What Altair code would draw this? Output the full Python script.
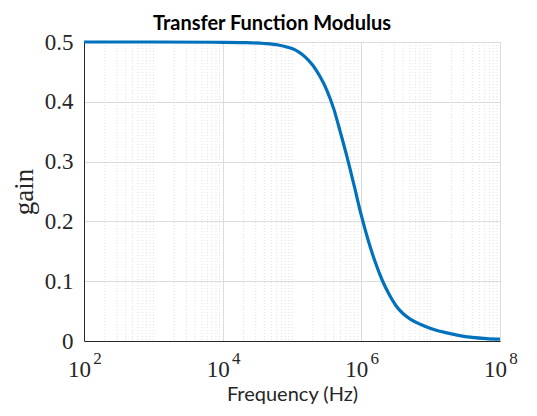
import altair as alt
import pandas as pd

log_freq = [2.0, 3.0, 4.0, 4.3, 4.6, 4.8, 4.9, 5.0, 5.1, 5.2, 5.3, 5.4, 5.5,
            5.6, 5.7, 5.8, 5.9, 6.0, 6.1, 6.2, 6.3, 6.4, 6.5, 6.6, 6.7,
            6.85, 7.0, 7.2, 7.4, 7.6, 7.8, 8.0]
gain = [0.5, 0.5, 0.4995, 0.499, 0.4975, 0.495, 0.4925, 0.489, 0.483, 0.474,
        0.461, 0.443, 0.420, 0.389, 0.348, 0.305, 0.258, 0.210, 0.168, 0.132,
        0.102, 0.078, 0.059, 0.046, 0.037, 0.028, 0.021, 0.0145, 0.0095,
        0.006, 0.004, 0.003]

major_x = [1e2, 1e4, 1e6, 1e8]
exponents = ["2", "4", "6", "8"]
minor_x = [k * 10 ** d for d in range(2, 8) for k in range(2, 11) if k * 10 ** d not in major_x]
y_ticks = [0, 0.1, 0.2, 0.3, 0.4, 0.5]

df = pd.DataFrame({"freq": [10 ** v for v in log_freq], "gain": gain})
minor_df = pd.DataFrame({"freq": minor_x})

xscale = alt.Scale(type="log", domain=[1e2, 1e8], nice=False)
yscale = alt.Scale(domain=[0, 0.5], nice=False)

exp_expr = ("datum.value == 100 ? '%s' : datum.value == 10000 ? '%s' : "
            "datum.value == 1000000 ? '%s' : '%s'") % tuple(exponents)

minor = alt.Chart(minor_df).mark_rule(
    color="#d9d9d9", strokeWidth=0.8, strokeDash=[1, 2]
).encode(
    x=alt.X("freq:Q", scale=xscale,
            axis=alt.Axis(values=major_x, labelExpr=exp_expr, title=None,
                          orient="bottom", grid=False, ticks=False, domain=False,
                          labelFont="Liberation Serif", labelFontSize=17,
                          labelColor="#262626", labelPadding=9, labelOffset=13,
                          labelFlush=False, labelOverlap=False))
)

line = alt.Chart(df).mark_line(
    color="#0072BD", strokeWidth=3.2, interpolate="monotone"
).encode(
    x=alt.X("freq:Q", scale=xscale,
            axis=alt.Axis(values=major_x, labelExpr="'10'", title="Frequency (Hz)",
                          orient="bottom",
                          grid=True, gridColor="#dcdcdc", ticks=False,
                          domainColor="#262626", labelFont="Liberation Serif",
                          labelFontSize=23, labelColor="#262626", labelPadding=17,
                          labelOffset=-5, labelFlush=False, labelOverlap=False,
                          titleFont="Lato", titleFontSize=20, titleFontWeight="normal",
                          titleColor="#262626", titlePadding=3)),
    y=alt.Y("gain:Q", scale=yscale,
            axis=alt.Axis(values=y_ticks, format="~g", title="gain",
                          grid=True, gridColor="#dcdcdc", ticks=False,
                          domainColor="#262626", labelFont="Liberation Serif",
                          labelFontSize=23, labelColor="#262626", labelPadding=11,
                          titleFont="Liberation Serif", titleFontSize=27,
                          titleFontWeight="normal", titleColor="#262626",
                          titlePadding=6)),
)

chart = alt.layer(minor, line).resolve_axis(x="independent").properties(
    width=416, height=299,
    title=alt.Title("Transfer Function Modulus", font="Lato", fontSize=20,
                    fontWeight="bold", color="#000000", dx=-20, dy=12, offset=9,
                    frame="group"),
    autosize=alt.AutoSizeParams(type="none"),
    padding={"left": 76, "top": 34, "right": 29, "bottom": 67},
).configure_view(stroke="#a6a6a6", strokeWidth=1).configure(background="white")

chart.save("out.html", embed_options={"renderer": "svg", "actions": False})
